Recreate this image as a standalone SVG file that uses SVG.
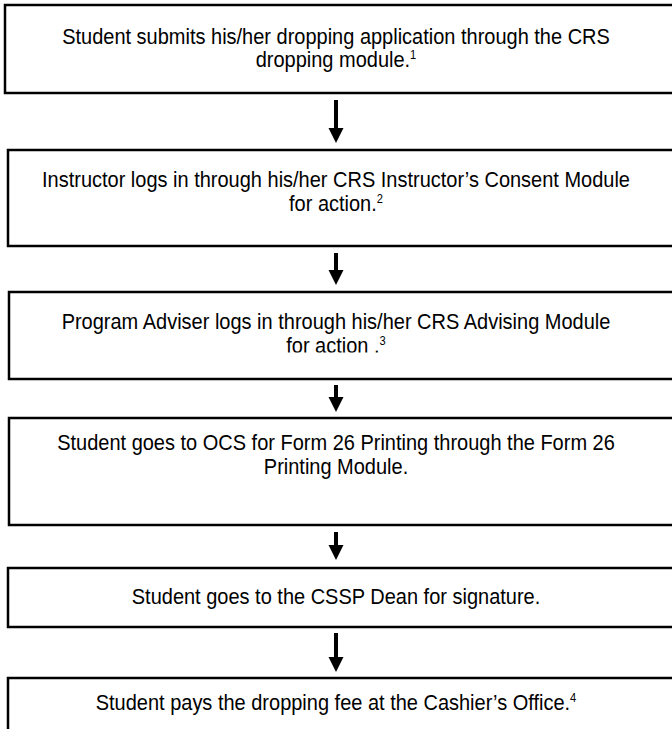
<svg xmlns="http://www.w3.org/2000/svg" width="672" height="729" viewBox="0 0 672 729">
<defs>
<style>
.box{fill:#fff;stroke:#000;stroke-width:2.5}
.t{font-family:"Liberation Sans",Arial,sans-serif;font-size:21.5px;fill:#000;text-anchor:middle}
.sup{font-size:12px}
.shaft{stroke:#000;stroke-width:4}
.head{fill:#000}
</style>
<clipPath id="clip3"><rect x="0" y="292" width="672" height="60.5"/></clipPath>
</defs>
<rect width="672" height="729" fill="#fff"/>
<g id="connectors">
<line class="shaft" x1="336" y1="100" x2="336" y2="130"/><polygon class="head" points="328.5,128 343.5,128 336,143"/>
<line class="shaft" x1="336" y1="253" x2="336" y2="272"/><polygon class="head" points="328.5,270 343.5,270 336,285"/>
<line class="shaft" x1="336" y1="385" x2="336" y2="399"/><polygon class="head" points="328.5,397 343.5,397 336,412"/>
<line class="shaft" x1="336" y1="532" x2="336" y2="547"/><polygon class="head" points="328.5,545 343.5,545 336,560"/>
<line class="shaft" x1="336" y1="633" x2="336" y2="659"/><polygon class="head" points="328.5,657 343.5,657 336,672"/>
</g>
<g id="n1"><rect class="box" x="5" y="5" width="700" height="88"/>
<text class="t" transform="matrix(0.93 0 0 1 336 44)">Student submits his/her dropping application through the CRS</text>
<text class="t" transform="matrix(0.93 0 0 1 336 67)">dropping module.<tspan class="sup" dy="-8">1</tspan></text></g>
<g id="n2"><rect class="box" x="8" y="150" width="700" height="96"/>
<text class="t" transform="matrix(0.93 0 0 1 336 187)">Instructor logs in through his/her CRS Instructor’s Consent Module</text>
<text class="t" transform="matrix(0.93 0 0 1 336 211)">for action.<tspan class="sup" dy="-8">2</tspan></text></g>
<g id="n3"><rect class="box" x="9" y="292" width="700" height="87"/>
<text class="t" transform="matrix(0.93 0 0 1 336 329)">Program Adviser logs in through his/her CRS Advising Module</text>
<g clip-path="url(#clip3)"><text class="t" transform="matrix(0.93 0 0 1 336 353)">for action .<tspan class="sup" dy="-8">3</tspan></text></g></g>
<g id="n4"><rect class="box" x="9" y="418" width="700" height="107"/>
<text class="t" transform="matrix(0.93 0 0 1 336 450)">Student goes to OCS for Form 26 Printing through the Form 26</text>
<text class="t" transform="matrix(0.93 0 0 1 336 474)">Printing Module.</text></g>
<g id="n5"><rect class="box" x="8" y="568" width="700" height="59"/>
<text class="t" transform="matrix(0.93 0 0 1 336 604)">Student goes to the CSSP Dean for signature.</text></g>
<g id="n6"><rect class="box" x="8" y="678" width="700" height="100"/>
<text class="t" transform="matrix(0.93 0 0 1 336 710)">Student pays the dropping fee at the Cashier’s Office.<tspan class="sup" dy="-8">4</tspan></text></g>
</svg>
